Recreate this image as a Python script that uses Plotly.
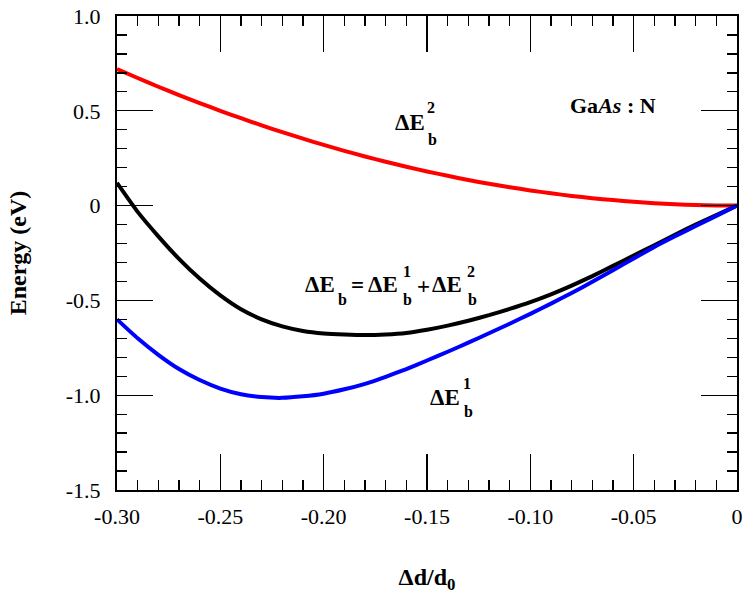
import plotly.graph_objects as go

# ---------------- data ----------------
x_vals = [-0.30, -0.29, -0.28, -0.27, -0.26, -0.25, -0.24, -0.23, -0.22, -0.21,
          -0.20, -0.19, -0.18, -0.17, -0.16, -0.15, -0.14, -0.13, -0.12, -0.11,
          -0.10, -0.09, -0.08, -0.07, -0.06, -0.05, -0.04, -0.03, -0.02, -0.01, 0.0]

dE2 = [0.720, 0.673, 0.627, 0.583, 0.541, 0.500, 0.461, 0.423, 0.387, 0.353,
       0.320, 0.289, 0.259, 0.231, 0.205, 0.180, 0.157, 0.135, 0.115, 0.097,
       0.080, 0.065, 0.051, 0.039, 0.029, 0.020, 0.013, 0.007, 0.003, 0.001, 0.0]

dE_total = [0.120, -0.033, -0.162, -0.281, -0.385, -0.474, -0.547, -0.600, -0.637, -0.661,
            -0.674, -0.680, -0.683, -0.680, -0.672, -0.655, -0.633, -0.607, -0.578, -0.545,
            -0.509, -0.468, -0.422, -0.372, -0.318, -0.263, -0.209, -0.154, -0.100, -0.050, 0.0]

dE1 = [-0.600, -0.700, -0.787, -0.862, -0.920, -0.965, -0.995, -1.010, -1.014, -1.006,
       -0.992, -0.969, -0.940, -0.903, -0.862, -0.817, -0.771, -0.723, -0.673, -0.623,
       -0.571, -0.517, -0.461, -0.402, -0.341, -0.279, -0.218, -0.162, -0.108, -0.054, 0.0]

x_ticks = [-0.30, -0.25, -0.20, -0.15, -0.10, -0.05, 0.0]
x_tick_text = ["-0.30", "-0.25", "-0.20", "-0.15", "-0.10", "-0.05", "0"]
y_ticks = [-1.5, -1.0, -0.5, 0.0, 0.5, 1.0]
y_tick_text = ["-1.5", "-1.0", "-0.5", "0", "0.5", "1.0"]

# ---------------- figure ----------------
W, H = 749, 608
L, R, T, B = 117, 12, 16, 118
X0, X1 = -0.30, 0.0
Y0, Y1 = -1.5, 1.0

SERIF = "Liberation Serif"

fig = go.Figure()
for yv, col in ((dE2, "#ff0000"), (dE_total, "#000000"), (dE1, "#0000ff")):
    fig.add_trace(go.Scatter(x=x_vals, y=yv, mode="lines",
                             line=dict(color=col, width=4, shape="spline", smoothing=0.5),
                             showlegend=False, hoverinfo="skip"))


def px2x(px):
    return X0 + (px - L) / (W - L - R) * (X1 - X0)


def py2y(py):
    return Y1 - (py - T) / (H - T - B) * (Y1 - Y0)


def txt(s, px, py, size=23):
    fig.add_annotation(x=px2x(px), y=py2y(py), xref="x", yref="y", text="<b>" + s + "</b>",
                       showarrow=False, xanchor="center", yanchor="middle",
                       font=dict(family=SERIF, size=size, color="black"))


SUB = 16
# Delta E_b^2 (red curve label)
txt("ΔE", 410, 122)
txt("2", 431, 107, SUB)
txt("b", 432, 139, SUB)

# Delta E_b = Delta E_b^1 + Delta E_b^2
txt("ΔE", 320, 284)
txt("b", 342, 299, SUB)
txt("=", 357, 285)
txt("ΔE", 383, 284)
txt("1", 407, 271, SUB)
txt("b", 407, 299, SUB)
txt("+", 423, 286)
txt("ΔE", 447, 284)
txt("2", 471, 271, SUB)
txt("b", 472, 299, SUB)

# Delta E_b^1 (blue curve label)
txt("ΔE", 445, 397)
txt("1", 467, 383, SUB)
txt("b", 468, 411, SUB)

# GaAs : N
txt("Ga<i>As</i> : N", 613, 105, 22)

axis_common = dict(showgrid=False, zeroline=False, showline=True, linecolor="black",
                   linewidth=2, mirror="ticks", ticks="inside", tickcolor="black",
                   tickwidth=1.3, ticklen=36, automargin=False,
                   tickfont=dict(family=SERIF, size=22, color="black"))

fig.update_xaxes(range=[X0, X1], tickmode="array", tickvals=x_ticks, ticktext=x_tick_text,
                 minor=dict(tickmode="linear", tick0=0, dtick=0.01, ticks="inside",
                            ticklen=10, tickcolor="black", tickwidth=1.3),
                 title=dict(text="<b>Δd/d<sub>0</sub></b>",
                            font=dict(family=SERIF, size=24, color="black"), standoff=40),
                 ticklabelstandoff=6,
                 **axis_common)
fig.update_yaxes(range=[Y0, Y1], tickmode="array", tickvals=y_ticks, ticktext=y_tick_text,
                 minor=dict(tickmode="linear", tick0=0, dtick=0.1, ticks="inside",
                            ticklen=10, tickcolor="black", tickwidth=1.3),
                 title=dict(text="<b>Energy (eV)</b>",
                            font=dict(family=SERIF, size=24, color="black"), standoff=32),
                 ticklabelstandoff=10,
                 **axis_common)

fig.update_layout(width=W, height=H, margin=dict(l=L, r=R, t=T, b=B),
                  paper_bgcolor="white", plot_bgcolor="white")

fig.write_html("out.html",
               config={"displayModeBar": False, "staticPlot": True},
               post_script="document.body.style.margin='0';document.body.style.padding='0';"
                           "document.body.style.overflow='hidden';")
